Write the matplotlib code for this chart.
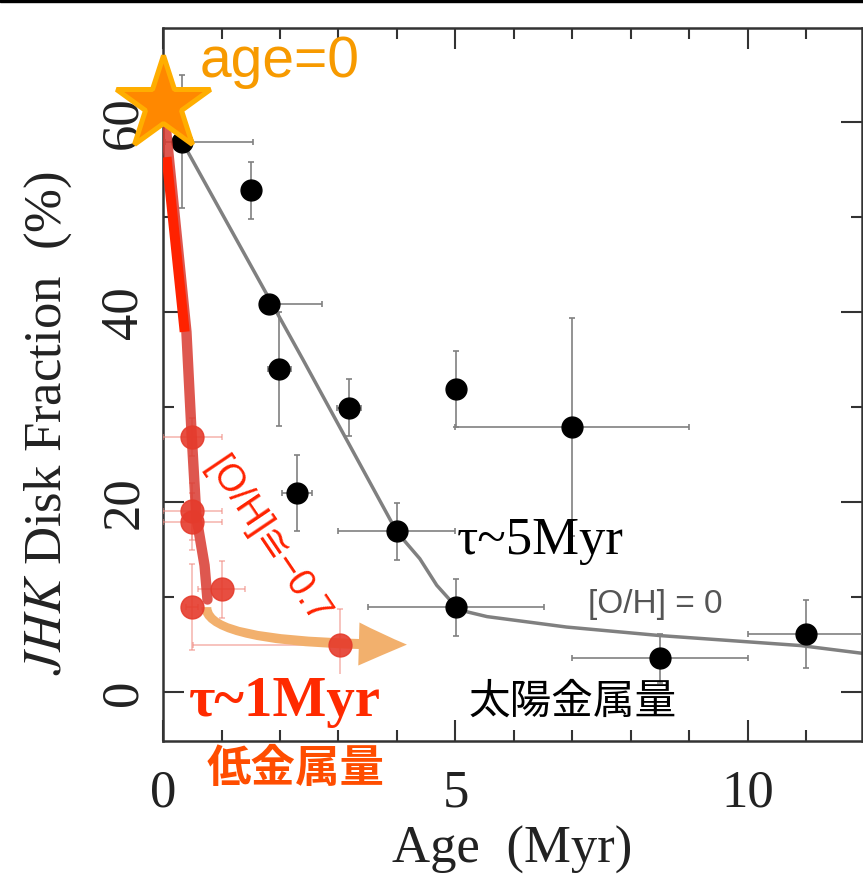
import matplotlib
matplotlib.use("Agg")
import matplotlib.pyplot as plt
from matplotlib.ticker import MultipleLocator

# solar metallicity clusters (black)
age_sun = [0.33, 1.50, 1.81, 1.99, 3.18, 2.29, 4.00, 5.01, 5.01, 7.00, 8.50, 11.0]
frac_sun = [57.9, 52.8, 40.8, 34.0, 29.9, 20.9, 16.9, 8.9, 31.9, 27.9, 3.5, 6.1]
xerr_lo_sun = [0.30, 0.12, 0.10, 0.20, 0.20, 0.25, 1.00, 1.50, 0.10, 2.00, 1.50, 1.00]
xerr_hi_sun = [1.20, 0.12, 0.90, 0.20, 0.20, 0.25, 1.00, 1.50, 0.10, 2.00, 1.50, 1.00]
yerr_sun = [7.0, 3.0, 0.5, 6.0, 3.0, 4.0, 3.0, 3.0, 4.0, 11.5, 2.6, 3.6]

# model curve [O/H] = 0
model_age = [0.33, 2.39, 4.0, 4.39, 4.68, 5.03, 5.2, 5.54, 6.9, 8.5, 10.9, 12.0]
model_frac = [57.9, 35.0, 16.8, 14.0, 11.2, 8.8, 8.4, 7.9, 6.8, 5.9, 4.85, 4.0]

# low metallicity clusters (red)
age_low = [0.50, 0.50, 0.50, 1.00, 0.49, 3.02]
frac_low = [26.8, 19.0, 17.9, 10.8, 8.9, 4.9]
xerr_lo_low = [0.5, 0.5, 0.5, 0.4, 0.1, 2.5]
xerr_hi_low = [0.5, 0.5, 0.5, 0.4, 0.1, 1.0]
yerr_low = [2.0, 3.0, 3.0, 3.0, 4.5, 3.8]

# low metallicity trend (hand drawn)
fast_age = [0.03, 0.40, 0.49, 0.57, 0.71, 0.76]
fast_frac = [60.5, 37.9, 27.0, 18.4, 13.3, 9.7]
bright_age = [0.06, 0.37]
bright_frac = [56.3, 37.9]

arrow_start = (0.74, 8.9)
arrow_end = (4.17, 4.95)
star_pos = (0.0, 61.9)

plt.rcParams['font.family'] = ['Liberation Serif', 'DejaVu Serif']
plt.rcParams['mathtext.fontset'] = 'stix'

fig = plt.figure(figsize=(8.63, 8.87), dpi=100)
ax = fig.add_axes([0.1889, 0.1635, 0.8099, 0.8038])

ax.errorbar(age_sun, frac_sun, xerr=[xerr_lo_sun, xerr_hi_sun], yerr=yerr_sun,
            fmt='o', color='black', ms=15, ecolor='#808080', elinewidth=1.2,
            capsize=2.5, capthick=1.2, zorder=3)
ax.plot(model_age, model_frac, color='#808080', lw=2.5, zorder=2)

ax.errorbar(age_low, frac_low, xerr=[xerr_lo_low, xerr_hi_low], yerr=yerr_low,
            fmt='none', ecolor='#f08a80', elinewidth=1.2, capsize=2.5,
            capthick=1.2, alpha=0.6, zorder=3)
ax.plot(fast_age, fast_frac, color='#d93a30', lw=7.5, alpha=0.85,
        solid_capstyle='round', zorder=4)
ax.plot(bright_age, bright_frac, color='#ff2200', lw=7.2,
        solid_capstyle='butt', zorder=4.5)

ax.annotate('', xy=arrow_end, xytext=arrow_start,
            arrowprops=dict(arrowstyle='simple,head_length=34.6,head_width=31,tail_width=7.2',
                            connectionstyle='angle3,angleA=90,angleB=0',
                            fc='#f2b06d', ec='none', shrinkA=0, shrinkB=0,
                            mutation_scale=1), zorder=4)

ax.plot(age_low, frac_low, 'o', color='#e53b2c', ms=16.5, alpha=0.9, zorder=5)

ax.plot(*star_pos, marker='*', ms=71, mfc='#ff8800', mec='#ffae00', mew=3.6,
        clip_on=False, zorder=10)

ax.set_xlim(0, 11.95)
ax.set_ylim(-5.2, 69.9)
ax.xaxis.set_major_locator(MultipleLocator(5))
ax.xaxis.set_minor_locator(MultipleLocator(1))
ax.yaxis.set_major_locator(MultipleLocator(20))
ax.yaxis.set_minor_locator(MultipleLocator(10))
ax.tick_params(which='both', direction='in', top=True, right=True,
               labelsize=38, color='#333333', labelcolor='#222222', width=1.5)
ax.tick_params(which='major', length=15)
ax.tick_params(which='minor', length=8)
ax.tick_params(axis='x', pad=20)
ax.tick_params(axis='y', pad=11)
for lab in ax.get_yticklabels():
    lab.set_rotation(90)
    lab.set_va('center')
for sp in ax.spines.values():
    sp.set_color('#333333')
    sp.set_linewidth(1.8)

ax.set_xlabel('Age  (Myr)', fontsize=38, color='#222222')
ax.xaxis.set_label_coords(0.5, -0.118)
ax.set_ylabel(r'$\mathit{JHK}$ Disk Fraction  (%)', fontsize=38, color='#222222')
ax.yaxis.set_label_coords(-0.128, 0.447)

sans = ['Liberation Sans', 'DejaVu Sans']
cjk = ['Noto Sans CJK JP', 'DejaVu Sans']
ax.text(0.625, 64.8, 'age=0', color='#f79a00', fontsize=41, family=sans,
        ha='left', va='baseline', zorder=11)
ax.text(5.03, 14.6, 'τ~5Myr', color='black', fontsize=38, ha='left', va='baseline')
ax.text(7.26, 8.4, '[O/H] = 0', color='#555555', fontsize=24, family=sans,
        ha='left', va='baseline')
ax.text(1.78, 16.0, '[O/H]≅−0.7', color='#ff2200', fontsize=27, family=sans,
        rotation=-56, rotation_mode='anchor', ha='center', va='center', zorder=6)
ax.text(0.45, -2.5, 'τ~1Myr', color='#ff2a00', fontsize=41, fontweight='bold',
        ha='left', va='baseline', zorder=7,
        bbox=dict(fc='white', ec='none', pad=1))
ax.text(7.01, -1.05, '太陽金属量', color='black', fontsize=30, family=cjk,
        ha='center', va='center')
ax.text(2.27, -8.0, '低金属量', color='#ff4d00', fontsize=32, family=cjk,
        fontweight='bold', ha='center', va='center', clip_on=False, zorder=7)

fig.add_artist(plt.Rectangle((0, 1 - 3 / 887), 1, 3 / 887,
                             transform=fig.transFigure, color='black'))

fig.savefig('out.png', dpi=100)
